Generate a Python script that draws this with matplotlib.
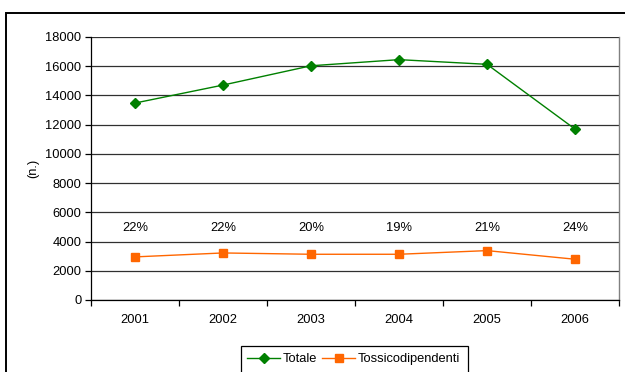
import matplotlib
matplotlib.use("Agg")
import matplotlib.pyplot as plt
from matplotlib.patches import Rectangle

plt.rcParams['font.family'] = ['Liberation Sans', 'DejaVu Sans']

anni = ['2001', '2002', '2003', '2004', '2005', '2006']
totale = [13480, 14710, 16030, 16450, 16130, 11700]
tossicodipendenti = [2950, 3220, 3130, 3130, 3380, 2790]
quota = ['22%', '22%', '20%', '19%', '21%', '24%']

W, H = 625, 372
fs = 9.3
fig = plt.figure(figsize=(W / 100, H / 100), dpi=100)

# riquadro esterno del grafico (tagliato a destra e in basso)
fig.patches.append(Rectangle((6 / W, -0.2), 1.2, 1 - 13 / H + 0.2,
                             transform=fig.transFigure, fill=False,
                             edgecolor='black', linewidth=1.4))

ax = fig.add_axes([91 / W, (H - 300) / H, 528 / W, 263 / H])
x = list(range(len(anni)))

ax.plot(x, totale, color='#008000', marker='D', markersize=4.6,
        linewidth=1.0, label='Totale', zorder=3)
ax.plot(x, tossicodipendenti, color='#FF6600', marker='s', markersize=5.5,
        linewidth=1.0, label='Tossicodipendenti', zorder=3)

for i, q in enumerate(quota):
    ax.text(x[i], 4950, q, ha='center', va='center', fontsize=fs)

ax.set_xlim(-0.5, 5.5)
ax.set_ylim(0, 18000)
ax.set_yticks(range(0, 18001, 2000))
ax.set_xticks([i - 0.5 for i in range(7)])
ax.set_xticklabels([])
ax.set_xticks(x, minor=True)
ax.set_xticklabels(anni, minor=True)
ax.tick_params(axis='x', which='minor', length=0, pad=10, labelsize=fs)
ax.tick_params(axis='x', which='major', length=4, width=0.9, direction='out')
ax.tick_params(axis='y', length=4, width=0.9, labelsize=fs, pad=3)

ax.grid(axis='y', color='#303030', linewidth=0.9)
ax.set_axisbelow(True)
for s in ['left', 'bottom']:
    ax.spines[s].set_color('black')
    ax.spines[s].set_linewidth(0.9)
ax.spines['top'].set_visible(False)
ax.spines['right'].set_color('#808080')
ax.spines['right'].set_linewidth(1.0)

ax.set_ylabel('(n.)', fontsize=fs, labelpad=4)

leg = fig.legend(loc='upper left', bbox_to_anchor=(238 / W, 1 - 344 / H),
                 ncol=2, frameon=False, fontsize=fs, handlelength=2.55,
                 handletextpad=0.2, columnspacing=0.4, borderpad=0.2)
fig.patches.append(Rectangle((241 / W, -0.2), 227 / W, 0.2 + (H - 346) / H,
                             transform=fig.transFigure, fill=False,
                             edgecolor='black', linewidth=0.9))

fig.savefig('out.png', dpi=100)
